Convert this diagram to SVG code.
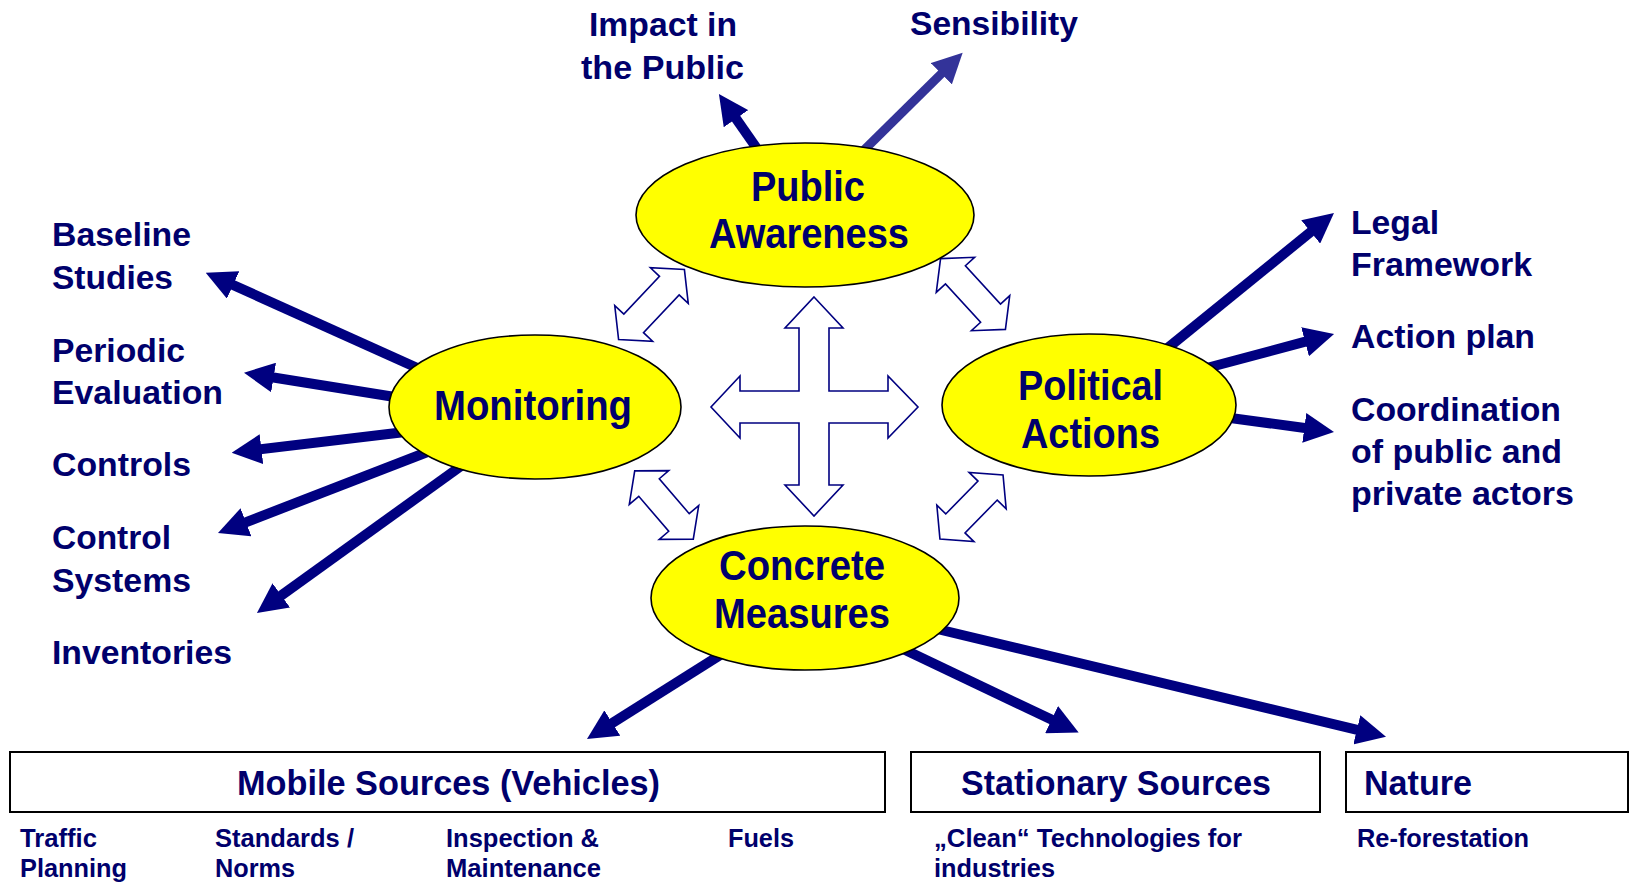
<svg xmlns="http://www.w3.org/2000/svg" xmlns:xlink="http://www.w3.org/1999/xlink" width="1634" height="883" viewBox="0 0 1634 883">
<style>
.t{font-family:"Liberation Sans",Arial,sans-serif;font-weight:bold;fill:#00006c}
.big{font-size:42px}
.lab{font-size:34px}
.box{font-size:35px}
.sm{font-size:26px}
.el{fill:#ffff00;stroke:#000;stroke-width:1.6}
.rb{fill:#fff;stroke:#000;stroke-width:2}
.ar{stroke:#000080;stroke-width:10;fill:none;marker-end:url(#head)}
.ar2{stroke:#333399;stroke-width:9;fill:none;marker-end:url(#head2)}
.hol{fill:#fff;stroke:#000080;stroke-width:1.6;stroke-linejoin:miter}
</style>
<defs>
<marker id="head" viewBox="0 0 30 30" refX="8" refY="15" markerWidth="30" markerHeight="30" markerUnits="userSpaceOnUse" orient="auto">
<path d="M0,0 L30,15 L0,30 z" fill="#000080"/>
</marker>
<marker id="head2" viewBox="0 0 30 30" refX="8" refY="15" markerWidth="30" markerHeight="30" markerUnits="userSpaceOnUse" orient="auto">
<path d="M0,0 L30,15 L0,30 z" fill="#333399"/>
</marker>
<path id="dblA" d="M-48,0 L-26,-26 L-26,-13.5 L26,-13.5 L26,-26 L48,0 L26,26 L26,13.5 L-26,13.5 L-26,26 Z"/>
<path id="dblB" d="M-45,0 L-23,-26 L-23,-13.5 L23,-13.5 L23,-26 L45,0 L23,26 L23,13.5 L-23,13.5 L-23,26 Z"/>
</defs>
<rect width="1634" height="883" fill="#fff"/>

<g id="connectors">
<line class="ar" x1="760" y1="153" x2="731.5" y2="112.1"/>
<line class="ar2" x1="858" y1="156" x2="947" y2="68.1"/>
<line class="ar" x1="424" y1="371" x2="225.8" y2="281.7"/>
<line class="ar" x1="401" y1="398" x2="265.7" y2="376.2"/>
<line class="ar" x1="405" y1="432" x2="253.5" y2="450.1"/>
<line class="ar" x1="430" y1="451" x2="238.5" y2="525.1"/>
<line class="ar" x1="468" y1="461" x2="274.8" y2="600.1"/>
<line class="ar" x1="1164" y1="351" x2="1316.9" y2="226.9"/>
<line class="ar" x1="1203" y1="369" x2="1312.8" y2="339.7"/>
<line class="ar" x1="1223" y1="417" x2="1312.2" y2="429"/>
<line class="ar" x1="725" y1="652" x2="605.6" y2="727.3"/>
<line class="ar" x1="901" y1="648" x2="1058.8" y2="723.1"/>
<line class="ar" x1="933" y1="628" x2="1364.6" y2="731.6"/>
<use xlink:href="#dblA" class="hol" transform="translate(651.5,304.5) rotate(-46.7)"/>
<use xlink:href="#dblA" class="hol" transform="translate(973,294) rotate(47.5)"/>
<use xlink:href="#dblB" class="hol" transform="translate(664,505) rotate(49.4)"/>
<use xlink:href="#dblB" class="hol" transform="translate(971.5,507) rotate(-45.5)"/>
<polygon id="cross" class="hol" points="814,297 843,328 829,328 829,391 888,391 888,376 918,407 888,438 888,423 829,423 829,485 843,485 814,516 785,485 799,485 799,423 740,423 740,438 711,407 740,376 740,391 799,391 799,328 785,328"/>
</g>

<g id="node-public-awareness">
<ellipse class="el" cx="805" cy="215" rx="169" ry="72"/>
<text class="t big" x="751" y="201" textLength="114" lengthAdjust="spacingAndGlyphs">Public</text>
<text class="t big" x="709" y="248" textLength="200" lengthAdjust="spacingAndGlyphs">Awareness</text>
</g>
<g id="node-monitoring">
<ellipse class="el" cx="535" cy="407" rx="146" ry="72"/>
<text class="t big" x="434" y="420" textLength="198" lengthAdjust="spacingAndGlyphs">Monitoring</text>
</g>
<g id="node-political-actions">
<ellipse class="el" cx="1089" cy="405" rx="147" ry="71"/>
<text class="t big" x="1018" y="400" textLength="145" lengthAdjust="spacingAndGlyphs">Political</text>
<text class="t big" x="1021" y="448" textLength="139" lengthAdjust="spacingAndGlyphs">Actions</text>
</g>
<g id="node-concrete-measures">
<ellipse class="el" cx="805" cy="598" rx="154" ry="72"/>
<text class="t big" x="719" y="580" textLength="166" lengthAdjust="spacingAndGlyphs">Concrete</text>
<text class="t big" x="714" y="628" textLength="176" lengthAdjust="spacingAndGlyphs">Measures</text>
</g>

<g id="node-impact">
<text class="t lab" x="589" y="36" textLength="148" lengthAdjust="spacingAndGlyphs">Impact in</text>
<text class="t lab" x="581" y="79" textLength="163" lengthAdjust="spacingAndGlyphs">the Public</text>
</g>
<g id="node-sensibility">
<text class="t lab" x="910" y="35" textLength="168" lengthAdjust="spacingAndGlyphs">Sensibility</text>
</g>

<g id="node-baseline">
<text class="t lab" x="52" y="246" textLength="139" lengthAdjust="spacingAndGlyphs">Baseline</text>
<text class="t lab" x="52" y="289" textLength="121" lengthAdjust="spacingAndGlyphs">Studies</text>
</g>
<g id="node-periodic">
<text class="t lab" x="52" y="362" textLength="133" lengthAdjust="spacingAndGlyphs">Periodic</text>
<text class="t lab" x="52" y="404" textLength="171" lengthAdjust="spacingAndGlyphs">Evaluation</text>
</g>
<g id="node-controls">
<text class="t lab" x="52" y="476" textLength="139" lengthAdjust="spacingAndGlyphs">Controls</text>
</g>
<g id="node-control-systems">
<text class="t lab" x="52" y="549" textLength="119" lengthAdjust="spacingAndGlyphs">Control</text>
<text class="t lab" x="52" y="592" textLength="139" lengthAdjust="spacingAndGlyphs">Systems</text>
</g>
<g id="node-inventories">
<text class="t lab" x="52" y="664" textLength="180" lengthAdjust="spacingAndGlyphs">Inventories</text>
</g>

<g id="node-legal">
<text class="t lab" x="1351" y="234" textLength="88" lengthAdjust="spacingAndGlyphs">Legal</text>
<text class="t lab" x="1351" y="276" textLength="181" lengthAdjust="spacingAndGlyphs">Framework</text>
</g>
<g id="node-action-plan">
<text class="t lab" x="1351" y="348" textLength="184" lengthAdjust="spacingAndGlyphs">Action plan</text>
</g>
<g id="node-coordination">
<text class="t lab" x="1351" y="421" textLength="210" lengthAdjust="spacingAndGlyphs">Coordination</text>
<text class="t lab" x="1351" y="463" textLength="211" lengthAdjust="spacingAndGlyphs">of public and</text>
<text class="t lab" x="1351" y="505" textLength="223" lengthAdjust="spacingAndGlyphs">private actors</text>
</g>

<g id="node-mobile">
<rect class="rb" x="10" y="752" width="875" height="60"/>
<text class="t box" x="237" y="795" textLength="423" lengthAdjust="spacingAndGlyphs">Mobile Sources (Vehicles)</text>
</g>
<g id="node-stationary">
<rect class="rb" x="911" y="752" width="409" height="60"/>
<text class="t box" x="961" y="795" textLength="310" lengthAdjust="spacingAndGlyphs">Stationary Sources</text>
</g>
<g id="node-nature">
<rect class="rb" x="1346" y="752" width="282" height="60"/>
<text class="t box" x="1364" y="795" textLength="108" lengthAdjust="spacingAndGlyphs">Nature</text>
</g>

<g id="node-traffic">
<text class="t sm" x="20" y="847" textLength="77" lengthAdjust="spacingAndGlyphs">Traffic</text>
<text class="t sm" x="20" y="877" textLength="107" lengthAdjust="spacingAndGlyphs">Planning</text>
</g>
<g id="node-standards">
<text class="t sm" x="215" y="847" textLength="139" lengthAdjust="spacingAndGlyphs">Standards /</text>
<text class="t sm" x="215" y="877" textLength="80" lengthAdjust="spacingAndGlyphs">Norms</text>
</g>
<g id="node-inspection">
<text class="t sm" x="446" y="847" textLength="153" lengthAdjust="spacingAndGlyphs">Inspection &amp;</text>
<text class="t sm" x="446" y="877" textLength="155" lengthAdjust="spacingAndGlyphs">Maintenance</text>
</g>
<g id="node-fuels">
<text class="t sm" x="728" y="847" textLength="66" lengthAdjust="spacingAndGlyphs">Fuels</text>
</g>
<g id="node-clean">
<text class="t sm" x="934" y="847" textLength="308" lengthAdjust="spacingAndGlyphs">„Clean“ Technologies for</text>
<text class="t sm" x="934" y="877" textLength="121" lengthAdjust="spacingAndGlyphs">industries</text>
</g>
<g id="node-reforestation">
<text class="t sm" x="1357" y="847" textLength="172" lengthAdjust="spacingAndGlyphs">Re-forestation</text>
</g>
</svg>
